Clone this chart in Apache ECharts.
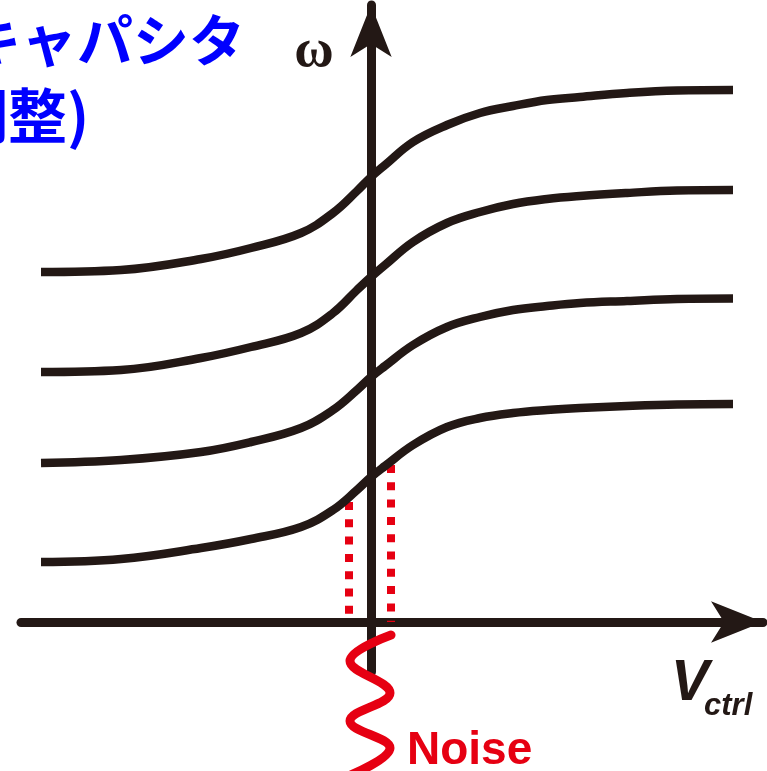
<!DOCTYPE html>
<html>
<head>
<meta charset="utf-8">
<script src="https://cdn.jsdelivr.net/npm/echarts@6/dist/echarts.min.js"></script>
<style>
  html, body { margin: 0; padding: 0; background: #ffffff; }
  #chart { width: 767px; height: 771px; }
</style>
</head>
<body>
<div id="chart"></div>
<script>
// Control voltage samples (V_ctrl, arbitrary units, 0 on the ω axis)
const vctrl = [-6.6, -5.0, -3.4, -2.4, -1.4, -0.76, -0.28, 0, 0.28, 0.84, 1.52, 2.18, 2.84, 3.52, 4.18, 5.12, 6.12, 7.24];

// Oscillation frequency ω for each capacitor-bank setting (top band first)
const band1 = [7.00, 7.04, 7.26, 7.48, 7.78, 8.18, 8.62, 8.90, 9.14, 9.60, 9.94, 10.18, 10.32, 10.44, 10.50, 10.58, 10.63, 10.64];
const band2 = [5.00, 5.04, 5.28, 5.50, 5.78, 6.18, 6.64, 6.90, 7.14, 7.60, 7.98, 8.20, 8.36, 8.46, 8.52, 8.58, 8.63, 8.64];
const band3 = [3.18, 3.24, 3.40, 3.60, 3.88, 4.24, 4.64, 4.90, 5.12, 5.54, 5.90, 6.10, 6.24, 6.32, 6.38, 6.42, 6.46, 6.47];
const band4 = [1.20, 1.26, 1.48, 1.66, 1.90, 2.24, 2.64, 2.90, 3.12, 3.54, 3.90, 4.08, 4.18, 4.24, 4.28, 4.32, 4.35, 4.36];

// Noise excursion of V_ctrl around zero and where it meets the lowest band
const noiseV = [-0.44, 0.40];
const noiseTop = [2.40, 3.14];

// Noise waveform below the V_ctrl axis: its turning points (V offset, vertical position)
const noiseWaveV = [0.40, -0.42, 0.38, -0.42, 0.38, -0.40];
const noiseWaveY = [-0.26, -0.78, -1.42, -1.98, -2.52, -3.06];

const INK = '#231815';
const RED = '#e60012';

const bands = [band1, band2, band3, band4];
const series = bands.map((b, i) => ({
  name: 'band' + (i + 1),
  type: 'line',
  data: vctrl.map((v, k) => [v, b[k]]),
  showSymbol: false,
  smooth: 0.4,
  lineStyle: { color: INK, width: 8.5, cap: 'butt' },
  silent: true,
  z: 3
}));

noiseV.forEach((v, i) => {
  series.push({
    name: 'noise' + i,
    type: 'line',
    data: [[v, noiseTop[i]], [v, 0]],
    showSymbol: false,
    lineStyle: { color: RED, width: 8, type: [8, 9.3], cap: 'butt' },
    silent: true,
    z: 2
  });
});

series.push({
  name: 'noiseWave',
  type: 'line',
  data: noiseWaveV.map((v, k) => [v, noiseWaveY[k]]),
  showSymbol: false,
  smooth: 0.4,
  clip: false,
  lineStyle: { color: RED, width: 9, cap: 'round' },
  silent: true,
  z: 4
});

const axisCommon = {
  type: 'value',
  axisLine: {
    show: true,
    onZero: true,
    symbol: ['none', 'arrow'],
    symbolSize: [31, 52],
    lineStyle: { color: INK, width: 9 }
  },
  axisTick: { show: false },
  axisLabel: { show: false },
  splitLine: { show: false }
};

const chart = echarts.init(document.getElementById('chart'), null, { renderer: 'canvas' });
chart.setOption({
  animation: false,
  backgroundColor: '#ffffff',
  grid: { left: 21, right: 4, top: 5, bottom: 99 },
  xAxis: Object.assign({}, axisCommon, { min: -7, max: 7.84 }),
  yAxis: Object.assign({}, axisCommon, { min: -1, max: 12.34 }),
  series: series,
  graphic: [
    {
      type: 'text',
      style: {
        text: 'キャパシタ',
        x: 245, y: 40,
        align: 'right', verticalAlign: 'middle',
        font: 'bold 56px "Noto Sans CJK JP"',
        fill: '#0000ff'
      }
    },
    {
      type: 'text',
      style: {
        text: '調整)',
        x: -51, y: 116,
        align: 'left', verticalAlign: 'middle',
        font: 'bold 59px "Noto Sans CJK JP"',
        fill: '#0000ff'
      }
    },
    {
      type: 'text',
      style: {
        text: 'ω',
        x: 314, y: 52,
        align: 'center', verticalAlign: 'middle',
        font: 'bold 54px "Liberation Serif"',
        fill: INK
      }
    },
    {
      type: 'text',
      style: {
        text: 'V',
        x: 671, y: 684,
        align: 'left', verticalAlign: 'middle',
        font: 'italic bold 57px "Liberation Sans"',
        fill: INK
      }
    },
    {
      type: 'text',
      style: {
        text: 'ctrl',
        x: 704, y: 706,
        align: 'left', verticalAlign: 'middle',
        font: 'italic bold 31px "Liberation Sans"',
        fill: INK
      }
    },
    {
      type: 'text',
      style: {
        text: 'Noise',
        x: 407, y: 751,
        align: 'left', verticalAlign: 'middle',
        font: 'bold 46px "Liberation Sans"',
        fill: RED
      }
    }
  ]
});
</script>
</body>
</html>
